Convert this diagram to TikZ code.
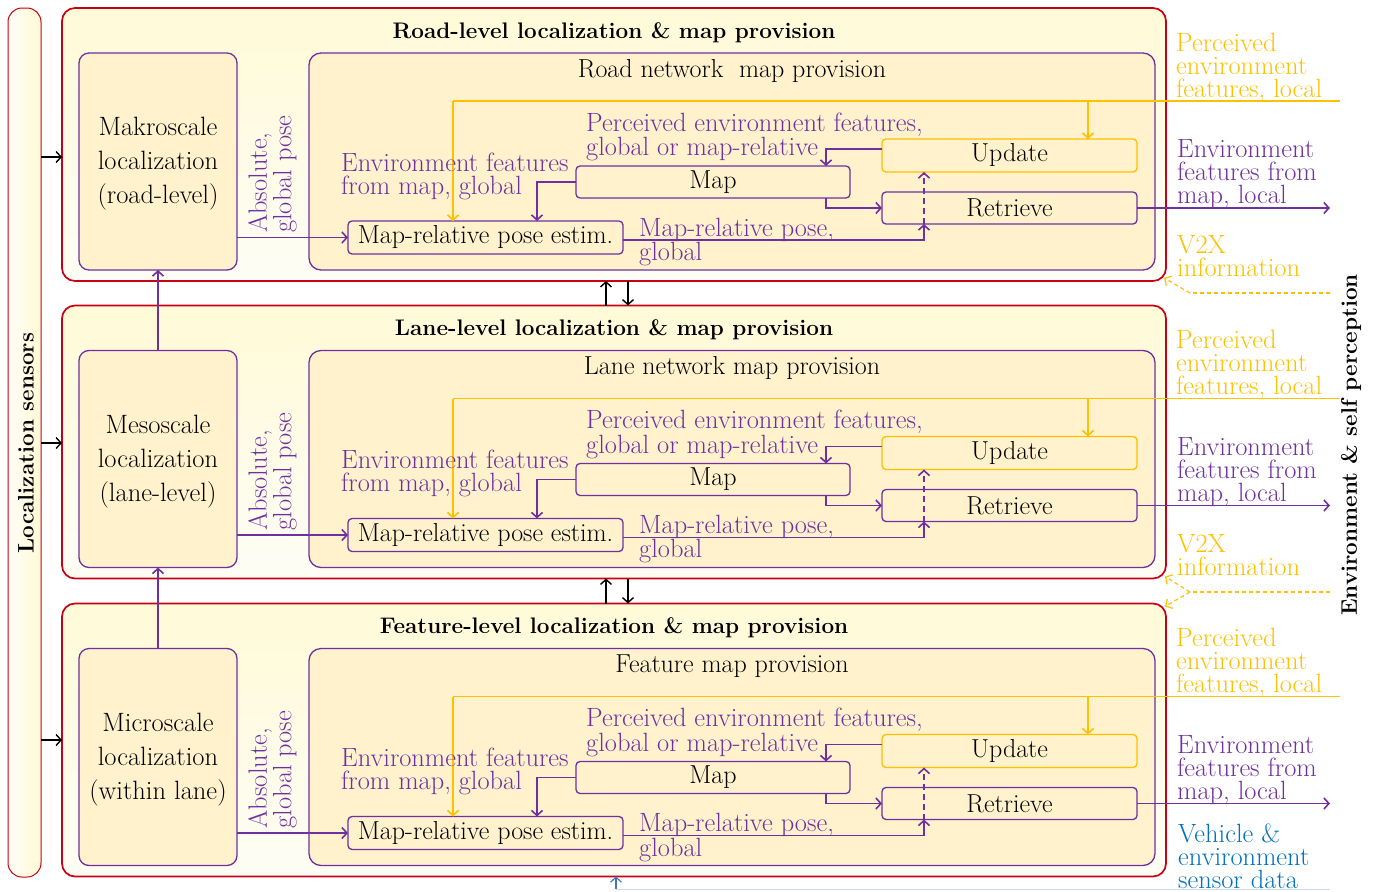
\documentclass[tikz,border=0pt]{standalone}
\usetikzlibrary{arrows.meta}
\definecolor{pur}{RGB}{112,48,160}
\definecolor{yel}{RGB}{255,192,0}
\definecolor{redb}{RGB}{200,0,20}
\definecolor{boxf}{RGB}{255,242,204}
\definecolor{panT}{RGB}{255,250,215}
\definecolor{panB}{RGB}{254,253,245}
\definecolor{blu}{RGB}{0,112,192}
\definecolor{bluL}{RGB}{68,114,196}
\definecolor{bluLL}{RGB}{205,218,238}
\tikzset{
  >={Straight Barb[length=5pt,width=11pt]},
  panelsty/.style={draw=redb, line width=1.7pt, rounded corners=13pt, top color=panT, bottom color=panB, minimum width=1104pt, minimum height=273pt, inner sep=0pt, outer sep=0pt},
  locbox/.style={draw=pur, line width=1.3pt, fill=boxf, rounded corners=10pt, minimum width=158pt, minimum height=217pt, inner sep=0pt, outer sep=0pt},
  loctext/.style={align=center, inner sep=0pt, font=\fontsize{26.5}{34}\selectfont},
  provbox/.style={draw=pur, line width=1.3pt, fill=boxf, rounded corners=12pt, minimum width=846pt, minimum height=217pt, inner sep=0pt, outer sep=0pt},
  smallbox/.style={draw=pur, line width=1.3pt, fill=boxf, rounded corners=4pt, minimum height=33pt, inner sep=0pt, outer sep=0pt},
  titlesty/.style={font=\fontsize{22.5}{26}\bfseries\selectfont, inner sep=0pt},
  plab/.style={text=pur, align=left, inner sep=0pt, font=\fontsize{26.4}{23}\selectfont},
  ylab/.style={text=yel, align=left, inner sep=0pt, font=\fontsize{26.4}{23}\selectfont},
  blab/.style={text=blu, align=left, inner sep=0pt, font=\fontsize{26.4}{23}\selectfont},
  parr/.style={draw=pur, line width=1.6pt, ->},
  yarr/.style={draw=yel, line width=1.6pt, ->},
  yline/.style={draw=yel, line width=1.6pt},
  ydash/.style={draw=yel, line width=1.2pt, dash pattern=on 4pt off 3pt},
  barr/.style={draw=black, line width=1.4pt, ->},
}
\newcommand{\mypanel}[5]{%
\begin{scope}[shift={(0,#1)}]
  \node[panelsty] (panel#2) at (614,144.5) {};
  \node[titlesty, anchor=base] (title#2) at (614,38) {#3};
  \node[locbox] (locb#2) at (158,161.5) {};
  \node[loctext] (loct#2) at (158,164) {#5};
  \node[provbox] (prov#2) at (732,161.5) {};
  \node[anchor=base, inner sep=0pt] (sub#2) at (732,77) {#4};
  \node[smallbox, minimum width=275pt] (pose#2) at (485.5,237.5) {Map-relative pose estim.};
  \node[smallbox, minimum width=274pt, minimum height=32pt] (map#2) at (713,182) {Map};
  \node[smallbox, draw=yel, minimum width=255pt] (update#2) at (1009.5,155.5) {Update};
  \node[smallbox, minimum width=255pt, minimum height=32pt] (retr#2) at (1009.5,208) {Retrieve};
  % coordinates
  \coordinate (yin#2) at (1340,101);
  \coordinate (ya#2) at (453,101);
  \coordinate (yb#2) at (1088,101);
  \coordinate (um#2) at (826,149);
  \coordinate (mp#2) at (537,182);
  \coordinate (mr#2) at (826,208);
  \coordinate (pr#2) at (924,240);
  \coordinate (rout#2) at (1330,208);
  % connectors
  \draw[parr] (locb#2.east |- pose#2.west) -- (pose#2.west);
  \draw[yline] (yin#2) -- (ya#2);
  \draw[yarr] (ya#2) -- (ya#2 |- pose#2.north);
  \draw[yarr] (yb#2) -- (yb#2 |- update#2.north);
  \draw[parr] (update#2.west |- um#2) -- (um#2) -- (um#2 |- map#2.north);
  \draw[parr] (map#2.west) -- (mp#2) -- (mp#2 |- pose#2.north);
  \draw[parr] (mr#2 |- map#2.south) -- (mr#2) -- (retr#2.west);
  \draw[parr] (pose#2.east |- pr#2) -- (pr#2) -- (pr#2 |- retr#2.south);
  \draw[parr, dash pattern=on 6pt off 4pt] (pr#2 |- retr#2.south) -- (pr#2 |- update#2.south);
  \draw[parr] (retr#2.east) -- (rout#2);
  % labels
  \node[plab, rotate=90, anchor=south west] (abs#2) at (297,233) {Absolute,\\global pose};
  \node[plab, anchor=north west] (pl1#2) at (586,112.5) {Perceived environment features,\\global or map-relative};
  \node[plab, anchor=north west] (pl2#2) at (341,152.5) {Environment features\\from map, global};
  \node[plab, anchor=north west] (pl3#2) at (639,217.5) {Map-relative pose,\\global};
  \node[ylab, anchor=north west] (yl#2) at (1176,32.5) {Perceived\\environment\\features, local};
  \node[plab, anchor=north west] (pl4#2) at (1177,139.5) {Environment\\features from\\map, local};
\end{scope}}
\begin{document}
\begin{tikzpicture}[x=1pt, y=-1pt, font=\fontsize{26}{30}\selectfont]
\useasboundingbox[fill=white] (0,0) rectangle (1377,892);
% left sensor bar
\node[draw=redb, line width=1pt, rounded corners=14pt, left color=panB, right color=panT, minimum width=33pt, minimum height=869pt, inner sep=0pt, outer sep=0pt] (sensbar) at (24.5,442.5) {};
\node[rotate=90, font=\fontsize{22.5}{26}\bfseries\selectfont, inner sep=0pt] (senslab) at (26,443) {Localization sensors};
% panels
\mypanel{0}{A}{Road-level localization \& map provision}{Road network\ \ map provision}{Makroscale\\localization\\(road-level)}
\mypanel{297.5}{B}{Lane-level localization \& map provision}{Lane network map provision}{Mesoscale\\localization\\(lane-level)}
\mypanel{595.5}{C}{Feature-level localization \& map provision}{Feature map provision}{Microscale\\localization\\(within lane)}
% vertical purple arrows between localization boxes
\draw[parr] (locbB.north) -- (locbA.south);
\draw[parr] (locbC.north) -- (locbB.south);
% sensor arrows
\coordinate (la1) at (41,157);
\coordinate (la2) at (41,443);
\coordinate (la3) at (41,740);
\draw[barr] (la1) -- (la1 -| panelA.west);
\draw[barr] (la2) -- (la2 -| panelB.west);
\draw[barr] (la3) -- (la3 -| panelC.west);
% inter-panel arrows
\draw[barr] ([xshift=-8pt]panelB.north) -- ([xshift=-8pt]panelA.south);
\draw[barr] ([xshift=14pt]panelA.south) -- ([xshift=14pt]panelB.north);
\draw[barr] ([xshift=-8pt]panelC.north) -- ([xshift=-8pt]panelB.south);
\draw[barr] ([xshift=14pt]panelB.south) -- ([xshift=14pt]panelC.north);
% V2X
\node[ylab, anchor=north west] (v2xA) at (1177,235.5) {V2X\\information};
\node[ylab, anchor=north west] (v2xB) at (1177,534.5) {V2X\\information};
\coordinate (v1) at (1330,293);
\coordinate (v1b) at (1190,293);
\coordinate (v2) at (1330,592);
\coordinate (v2b) at (1190,592);
\draw[ydash] (v1) -- (v1b);
\draw[ydash, ->] (v1b) -- ([shift={(-2,-3)}]panelA.south east);
\draw[ydash] (v2) -- (v2b);
\draw[ydash, ->] (v2b) -- ([shift={(-1,-2)}]panelB.south east);
\draw[ydash, ->] (v2b) -- ([shift={(-1,3)}]panelC.north east);
% vehicle sensor data
\node[blab, anchor=north west] (vehlab) at (1178,824) {Vehicle \&\\environment\\sensor data};
\coordinate (bl1) at (616,889);
\coordinate (bl2) at (1330,889);
\draw[draw=bluLL, line width=1pt] (bl1) -- (bl2);
\draw[draw=bluL, line width=1.1pt, ->] (bl1) -- (bl1 |- panelC.south);
% right vertical label
\node[rotate=90, font=\fontsize{22.5}{26}\bfseries\selectfont, inner sep=0pt] (envlab) at (1351,445) {Environment \& self perception};
\end{tikzpicture}
\end{document}
